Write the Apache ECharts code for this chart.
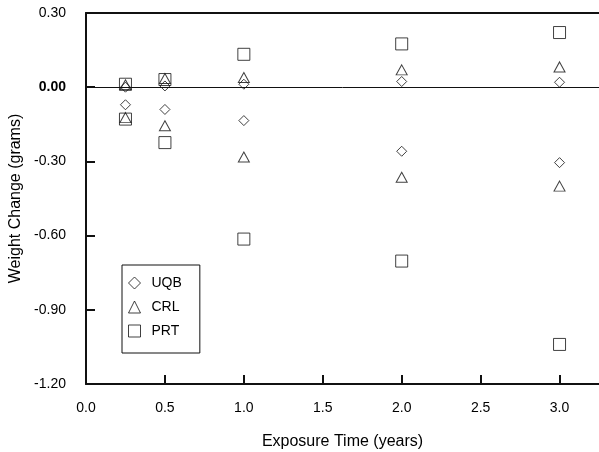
<!DOCTYPE html>
<html>
<head>
<meta charset="utf-8">
<script src="https://cdn.jsdelivr.net/npm/echarts@6/dist/echarts.min.js"></script>
<style>
  html, body { margin: 0; padding: 0; background: #fff; }
  #chart { width: 599px; height: 452px; }
</style>
</head>
<body>
<div id="chart"></div>
<script>
// exposure times (years)
var times = [0.25, 0.5, 1, 2, 3];

// two specimens per material
var uqbHigh = [0.0, 0.005, 0.012, 0.023, 0.02];
var uqbLow = [-0.071, -0.09, -0.135, -0.259, -0.305];
var crlHigh = [0.01, 0.035, 0.039, 0.07, 0.082];
var crlLow = [-0.123, -0.156, -0.282, -0.364, -0.40];
var prtHigh = [0.012, 0.031, 0.133, 0.175, 0.221];
var prtLow = [-0.129, -0.224, -0.614, -0.703, -1.04];

var yTicks = [-1.2, -0.9, -0.6, -0.3, 0, 0.3];

function pairs(a, b) {
  var out = [];
  times.forEach(function (t, i) { out.push([t, a[i]]); });
  times.forEach(function (t, i) { out.push([t, b[i]]); });
  return out;
}

var ink = "#111";
var font = "Liberation Sans";

function markerSeries(name, symbol, size, a, b) {
  return {
    name: name,
    type: "scatter",
    symbol: symbol,
    symbolSize: size,
    itemStyle: { color: "rgba(0,0,0,0)", borderColor: ink, borderWidth: 1 },
    data: pairs(a, b)
  };
}

var chart = echarts.init(document.getElementById("chart"));
var series = [
  markerSeries("UQB", "diamond", [10, 10], uqbHigh, uqbLow),
  markerSeries("CRL", "triangle", [11, 10], crlHigh, crlLow),
  markerSeries("PRT", "rect", [12, 12], prtHigh, prtLow)
];
// zero reference line
series[0].markLine = {
  silent: true,
  symbol: "none",
  label: { show: false },
  lineStyle: { color: ink, width: 1, type: "solid" },
  data: [{ yAxis: 0 }]
};

chart.setOption({
  animation: false,
  backgroundColor: "#fff",
  grid: { left: 86, right: 0, top: 13, bottom: 68, outerBoundsMode: "none" },
  legend: {
    orient: "vertical",
    left: 122,
    top: 265,
    padding: [11, 18, 15, 6],
    itemWidth: 12,
    itemHeight: 12,
    itemGap: 10,
    borderColor: ink,
    borderWidth: 1,
    itemStyle: { borderWidth: 1 },
    data: ["UQB", "CRL", "PRT"],
    textStyle: { fontFamily: font, fontSize: 14, color: "#000", padding: [0, 0, 0, 6] }
  },
  xAxis: [{
    type: "value",
    min: 0,
    max: 3.25,
    interval: 0.5,
    name: "Exposure Time (years)",
    nameLocation: "middle",
    nameGap: 50,
    nameTextStyle: { fontFamily: font, fontSize: 16, color: "#000" },
    axisLine: { onZero: false, lineStyle: { color: ink, width: 2 } },
    axisTick: { inside: true, length: 9, lineStyle: { color: ink, width: 2 } },
    axisLabel: {
      fontFamily: font, fontSize: 14, color: "#000", margin: 17,
      showMaxLabel: false,
      formatter: function (v) { return v.toFixed(1); }
    },
    splitLine: { show: false }
  }, {
    type: "value",
    position: "top",
    min: 0,
    max: 3.25,
    axisLine: { show: true, onZero: false, lineStyle: { color: ink, width: 2 } },
    axisTick: { show: false },
    axisLabel: { show: false },
    splitLine: { show: false }
  }],
  yAxis: {
    type: "value",
    min: yTicks[0],
    max: yTicks[yTicks.length - 1],
    interval: 0.3,
    name: "Weight Change (grams)",
    nameLocation: "middle",
    nameGap: 57,
    nameTextStyle: { fontFamily: font, fontSize: 16, color: "#000" },
    axisLine: { onZero: false, lineStyle: { color: ink, width: 2 } },
    axisTick: { inside: true, length: 9, lineStyle: { color: ink, width: 2 } },
    axisLabel: {
      fontFamily: font, fontSize: 14, color: "#000", margin: 20,
      formatter: function (v) {
        var s = v.toFixed(2);
        if (s === "-0.00") s = "0.00";
        return s === "0.00" ? "{b|" + s + "}" : s;
      },
      rich: { b: { fontFamily: font, fontSize: 14, fontWeight: "bold", color: "#000" } }
    },
    splitLine: { show: false }
  },
  series: series
});
</script>
</body>
</html>
